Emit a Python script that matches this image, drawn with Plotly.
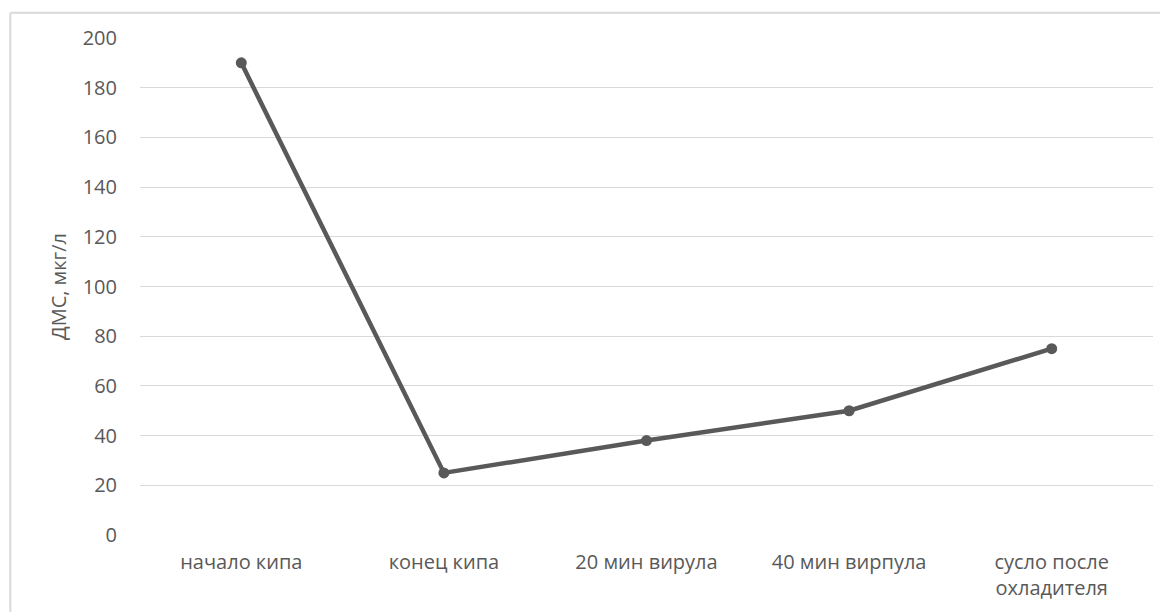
import plotly.graph_objects as go

categories = ["начало кипа", "конец кипа", "20 мин вирула", "40 мин вирпула", "сусло после<br>охладителя"]
values = [190, 25, 38, 50, 75]
y_ticks = [0, 20, 40, 60, 80, 100, 120, 140, 160, 180, 200]
y_title = "ДМС, мкг/л"

FONT = "Open Sans, Noto Sans, sans-serif"
GREY = "#595959"

fig = go.Figure()
fig.add_trace(go.Scatter(
    x=categories, y=values, mode="lines+markers",
    line=dict(color=GREY, width=4.5),
    marker=dict(color=GREY, size=11),
    showlegend=False,
))

# page body has an 8px margin, so the figure is sized/offset to compensate
fig.update_layout(
    width=1160, height=604,
    margin=dict(l=132, r=15, t=29.5, b=77),
    paper_bgcolor="white", plot_bgcolor="white",
    font=dict(family=FONT, size=20, color=GREY),
    xaxis=dict(type="category", range=[-0.5, 4.5], showgrid=False, showline=False,
               zeroline=False, ticks="", ticklabelstandoff=13,
               tickfont=dict(family=FONT, size=20, color=GREY)),
    yaxis=dict(range=[0, 200], tickvals=y_ticks, showgrid=True, gridcolor="#d9d9d9",
               gridwidth=1, zeroline=False, showline=False, ticks="",
               ticklabelstandoff=22,
               title=dict(text=y_title, font=dict(family=FONT, size=20, color=GREY), standoff=10),
               tickfont=dict(family=FONT, size=20, color=GREY)),
)

# outer chart border (top and left edges visible)
fig.add_shape(type="line", xref="paper", yref="paper",
              x0=-0.128, x1=1.1, y0=1.051, y1=1.051,
              line=dict(color="#d9d9d9", width=2))
fig.add_shape(type="line", xref="paper", yref="paper",
              x0=-0.128, x1=-0.128, y0=1.051, y1=-0.2,
              line=dict(color="#d9d9d9", width=2))

fig.write_html("out.html")
